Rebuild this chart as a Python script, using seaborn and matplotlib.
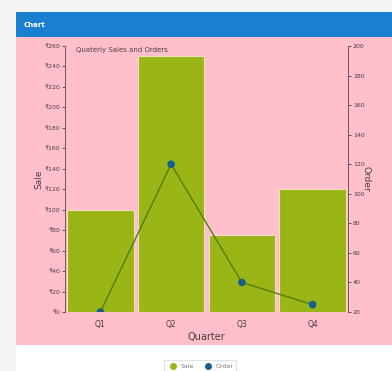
import matplotlib
matplotlib.use("Agg")
import matplotlib.pyplot as plt
import seaborn as sns
import pandas as pd
from matplotlib.patches import Rectangle
from matplotlib.lines import Line2D

# chart data
quarters = ["Q1", "Q2", "Q3", "Q4"]
sales = [100, 250, 75, 120]
orders = [20, 120, 40, 25]
sale_ticks = list(range(0, 261, 20))
order_ticks = list(range(20, 201, 20))

SALE_COLOR = "#9ab516"
LINE_COLOR = "#557d14"
ORDER_COLOR = "#1b5f8c"
TEXT_COLOR = "#4d3b45"

W, H = 392, 371

sns.set_style("white")
plt.rcParams["font.family"] = ["DejaVu Sans"]

fig = plt.figure(figsize=(W / 100, H / 100), dpi=100, facecolor="#f4f4f4")


def px_rect(x0, y0, x1, y1, color):
    fig.patches.append(Rectangle((x0 / W, 1 - y1 / H), (x1 - x0) / W, (y1 - y0) / H,
                                 transform=fig.transFigure, facecolor=color,
                                 edgecolor="none", zorder=-5))


# card: header, pink panel, white footer
px_rect(16, 12, W, 37, "#1a7fcf")
px_rect(16, 37, W, 345, "#ffc0cb")
px_rect(16, 345, W, H, "#ffffff")
fig.text(24 / W, 1 - 25 / H, "Chart", color="white", fontsize=5, fontweight="bold",
         va="center", ha="left")

df = pd.DataFrame({"Quarter": quarters, "Sale": sales, "Order": orders})

ax = fig.add_axes([65 / W, 1 - 312 / H, 283 / W, 266 / H])
ax.set_facecolor("none")
sns.barplot(data=df, x="Quarter", y="Sale", color=SALE_COLOR, width=0.94,
            edgecolor="#f3dcc0", linewidth=0.8, saturation=1, ax=ax)
ax.set_xlim(-0.5, 3.5)
ax.set_ylim(0, 260)
ax.set_yticks(sale_ticks)
ax.set_yticklabels(["₹%d" % v for v in sale_ticks])

ax2 = ax.twinx()
ax2.set_facecolor("none")
sns.lineplot(x=[0, 1, 2, 3], y=orders, color=LINE_COLOR, linewidth=1.0, ax=ax2)
sns.scatterplot(x=[0, 1, 2, 3], y=orders, color=ORDER_COLOR, s=30, edgecolor="none",
                zorder=5, ax=ax2)
ax2.set_ylim(20, 200)
ax2.set_yticks(order_ticks)

for a in (ax, ax2):
    for s in a.spines.values():
        s.set_visible(False)
    a.tick_params(colors=TEXT_COLOR, labelsize=4.5, length=2, width=0.6, pad=1.5)
ax.spines["left"].set_visible(True)
ax.spines["left"].set_color("#6b5560")
ax.spines["left"].set_linewidth(0.7)
ax2.spines["right"].set_visible(True)
ax2.spines["right"].set_color("#6b5560")
ax2.spines["right"].set_linewidth(0.7)
ax.tick_params(axis="x", labelsize=5.5, length=2, pad=3.5)

ax.set_xlabel("Quarter", fontsize=7, color=TEXT_COLOR, labelpad=2.5)
ax.set_ylabel("Sale", fontsize=6.5, color=TEXT_COLOR, labelpad=1)
ax2.set_ylabel("Order", fontsize=6.5, color=TEXT_COLOR, rotation=-90, labelpad=4)

ax.text(0.04, 0.985, "Quaterly Sales and Orders", transform=ax.transAxes,
        fontsize=5, color=TEXT_COLOR, ha="left", va="center")

handles = [
    Line2D([], [], marker="o", linestyle="none", color=SALE_COLOR, markersize=4),
    Line2D([], [], marker="o", linestyle="none", color=ORDER_COLOR, markersize=4),
]
fig.legend(handles, ["Sale", "Order"], loc="center", bbox_to_anchor=(200 / W, 1 - 366 / H),
           ncol=2, fontsize=4.5, frameon=True, edgecolor="#dddddd", fancybox=False,
           handletextpad=0.2, columnspacing=1.2, borderpad=0.5, labelcolor="#777777")

fig.savefig("out.png", dpi=100, facecolor=fig.get_facecolor())
